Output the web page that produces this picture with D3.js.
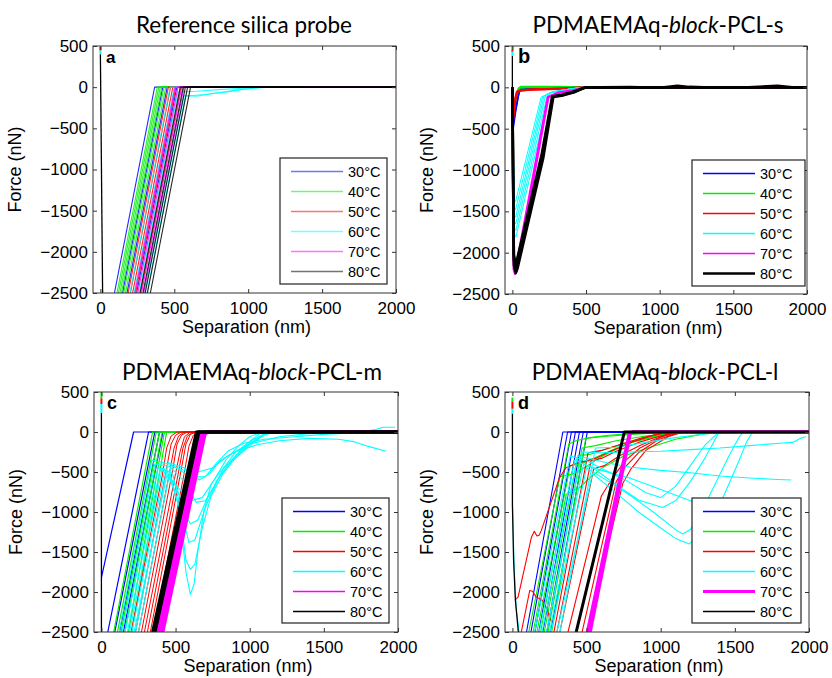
<!DOCTYPE html>
<html>
<head>
<meta charset="utf-8">
<script src="https://cdn.jsdelivr.net/npm/d3@7/dist/d3.min.js"></script>
<style>
body { margin: 0; background: #fff; }
text { font-family: "Liberation Sans", Arial, sans-serif; fill: #000; }
.title { font-family: Lato, "Open Sans", sans-serif; font-size: 22.5px; }
</style>
</head>
<body>
<svg id="chart" width="832" height="678"></svg>
<script>
// legend / series names and MATLAB colours
var temps = ['30°C', '40°C', '50°C', '60°C', '70°C', '80°C'];
var colors = ['#0000ff', '#00ee00', '#ff0000', '#00ffff', '#ff00ff', '#000000'];
var xTicks = [0, 500, 1000, 1500, 2000];
var yTicks = [500, 0, -500, -1000, -1500, -2000, -2500];
var xDomain = [-50, 2000];
var yDomain = [-2500, 500];

// each curve is a list of [separation nm, force nN]
// ---- a: reference silica probe
var contactA = [[0, 400], [15, -2500]];
var tipsA = [[2, 490, 445], [3, 445, 400]];
var a30 = [
    [[95, -2500], [367, 0], [2000, 0]],
    [[150, -2500], [422, 0], [2000, 0]],
    [[180, -2500], [452, 0], [2000, 0]],
    [[245, -2500], [517, 0], [2000, 0]]
];
var a40 = [
    [[112, -2500], [385, 0], [2000, 0]],
    [[122, -2500], [395, 0], [2000, 0]],
    [[132, -2500], [405, 0], [2000, 0]],
    [[142, -2500], [415, 0], [2000, 0]],
    [[158, -2500], [430, 0], [2000, 0]],
    [[170, -2500], [442, 0], [2000, 0]]
];
var a50 = [
    [[188, -2500], [460, 0], [2000, 0]],
    [[203, -2500], [475, 0], [2000, 0]],
    [[218, -2500], [490, 0], [2000, 0]],
    [[238, -2500], [510, 0], [2000, 0]],
    [[272, -2500], [545, 0], [2000, 0]]
];
var a60 = [
    [[200, -2500], [472, 0], [2000, 0]],
    [[228, -2500], [500, 0], [2000, 0]],
    [[262, -2500], [525, -60], [650, -50], [800, -30], [1000, -10], [1100, 0], [2000, 0]],
    [[300, -2500], [565, -100], [650, -110], [750, -80], [900, -40], [1050, -10], [1150, 0], [2000, 0]],
    [[315, -2500], [575, -110], [700, -90], [850, -60], [950, -30], [1100, 0], [2000, 0]]
];
var a70 = [
    [[233, -2500], [505, 0], [2000, 0]],
    [[253, -2500], [525, 0], [2000, 0]],
    [[278, -2500], [550, 0], [2000, 0]],
    [[293, -2500], [565, 0], [2000, 0]]
];
var a80 = [
    [[268, -2500], [540, 0], [2000, 0]],
    [[288, -2500], [560, 0], [2000, 0]],
    [[303, -2500], [575, 0], [2000, 0]],
    [[318, -2500], [590, 0], [2000, 0]],
    [[338, -2500], [610, 0], [1300, 8], [1400, 0], [2000, 0]]
];

// ---- b: PDMAEMAq-block-PCL-s
var contactB = [[0, 380], [0, 0]];
var tipsB = [[1, 500, 455], [2, 455, 430], [3, 430, 380]];
var b30 = [
    [[0, 0], [3, -510], [20, -300], [38, -118], [50, -25], [120, -8], [250, 0], [2000, 0]],
    [[0, 0], [3, -460], [22, -250], [42, -70], [60, -15], [200, 0], [2000, 0]]
];
var b40 = [
    [[0, 0], [3, -330], [25, -120], [42, -15], [60, 8], [200, 6], [330, 8], [420, 0], [2000, 0]],
    [[0, 0], [3, -280], [28, -90], [48, -5], [150, 4], [300, 2], [2000, 0]]
];
var b50 = [
    [[0, 0], [3, -420], [18, -180], [30, -60], [60, -35], [150, -25], [300, -18], [420, -10], [520, 0], [2000, 0]],
    [[0, 0], [3, -370], [20, -130], [35, -45], [100, -30], [250, -20], [400, -8], [500, 0], [2000, 0]]
];
var b60 = [
    [[0, 0], [12, -1350], [22, -1380], [195, -120], [250, -70], [380, -25], [470, 0], [2000, 0]],
    [[0, 0], [12, -1450], [22, -1480], [205, -115], [255, -65], [390, -20], [480, 0], [2000, 0]],
    [[0, 0], [13, -1540], [23, -1570], [215, -105], [262, -60], [400, -20], [480, 0], [2000, 0]],
    [[0, 0], [13, -1620], [23, -1650], [225, -100], [268, -58], [400, -18], [490, 0], [2000, 0]],
    [[0, 0], [14, -1700], [24, -1730], [237, -95], [272, -55], [410, -15], [490, 0], [2000, 0]],
    [[0, 0], [14, -1780], [24, -1810], [250, -85], [280, -50], [420, -12], [500, 0], [2000, 0]]
];
var b70 = [
    [[0, 0], [8, -2200], [18, -2260], [30, -2220], [245, -120], [320, -65], [420, -40], [500, 0], [2000, 0]],
    [[0, 0], [8, -2100], [16, -2170], [28, -2140], [240, -115], [315, -60], [410, -35], [490, 0], [2000, 0]]
];
var b80 = [
    [[0, 0], [10, -2150], [23, -2245], [35, -2190], [210, -850], [278, -118], [346, -97], [420, -60], [457, -30], [490, -5], [600, 0], [800, 3], [1000, -5], [1120, 20], [1200, 5], [1400, -5], [1600, 0], [1800, 20], [1900, 0], [2000, 0]],
    [[0, 0], [10, -2080], [22, -2180], [33, -2120], [205, -820], [274, -112], [340, -92], [420, -55], [460, -25], [495, 0], [2000, 0]],
    [[0, 0], [10, -2030], [21, -2120], [32, -2080], [200, -800], [270, -110], [335, -90], [420, -50], [500, 0], [2000, 0]]
];

// ---- c: PDMAEMAq-block-PCL-m
var contactC = [[0, 240], [0, -2500]];
var tipsC = [[1, 500, 420], [2, 420, 350], [3, 350, 240]];
var c30 = [
    [[0, -1820], [217, 0], [2000, 0]],
    [[43, -2500], [318, 0], [2000, 0]],
    [[90, -2500], [360, 0], [2000, 0]],
    [[122, -2500], [392, 0], [2000, 0]],
    [[148, -2500], [415, 0], [2000, 0]]
];
var c40 = [
    [[83, -2500], [345, 0], [2000, 0]],
    [[108, -2500], [370, 0], [2000, 0]],
    [[132, -2500], [392, 0], [2000, 0]],
    [[158, -2500], [410, 0], [2000, 0]],
    [[182, -2500], [425, 0], [2000, 0]],
    [[205, -2500], [440, 0], [2000, 0]]
];
var c50 = [
    [[200, -2500], [410, -550], [440, -200], [470, -50], [510, 0], [2000, 0]],
    [[230, -2500], [440, -450], [470, -150], [500, -40], [540, 0], [2000, 0]],
    [[250, -2500], [460, -500], [490, -200], [520, -50], [560, 0], [2000, 0]],
    [[270, -2500], [480, -480], [510, -150], [540, -40], [580, 0], [2000, 0]],
    [[290, -2500], [500, -520], [530, -250], [560, -60], [600, 0], [2000, 0]],
    [[310, -2500], [520, -500], [550, -200], [580, -50], [620, 0], [2000, 0]],
    [[330, -2500], [540, -450], [570, -150], [600, -30], [640, 0], [2000, 0]],
    [[350, -2500], [560, -500], [590, -180], [620, -40], [645, 0], [2000, 0]]
];
var c60 = [
    [[160, -2500], [380, -450], [440, -470], [520, -900], [570, -1750], [600, -2030], [625, -1900], [650, -1500], [690, -1000], [740, -650], [800, -500], [880, -350], [960, -200], [1050, -80], [1150, 0], [2000, 0]],
    [[175, -2500], [395, -470], [460, -500], [530, -1000], [570, -1600], [600, -1720], [630, -1650], [680, -1200], [740, -800], [820, -520], [900, -330], [1000, -150], [1100, -30], [1200, 0], [2000, 0]],
    [[190, -2500], [410, -450], [480, -520], [540, -1000], [590, -1380], [630, -1350], [700, -950], [780, -600], [860, -400], [950, -250], [1050, -100], [1120, 0], [2000, 0]],
    [[205, -2500], [425, -500], [500, -650], [560, -1000], [600, -1150], [650, -1100], [720, -800], [800, -550], [880, -350], [980, -150], [1080, 0], [2000, 0]],
    [[140, -2500], [360, -400], [460, -430], [560, -620], [640, -880], [700, -860], [760, -700], [820, -460], [900, -260], [1000, -120], [1100, -20], [1250, 0], [2000, 0]],
    [[220, -2500], [440, -550], [520, -700], [600, -860], [680, -820], [760, -600], [840, -350], [920, -180], [1000, -60], [1080, 0], [2000, 0]],
    [[230, -2500], [450, -380], [560, -450], [660, -600], [730, -520], [800, -360], [900, -250], [1050, -160], [1200, -110], [1400, -80], [1600, -90], [1700, -120], [1800, -180], [1920, -240]],
    [[120, -2500], [340, -350], [460, -400], [600, -560], [700, -560], [780, -380], [860, -230], [960, -140], [1100, -90], [1300, -60], [1500, -30], [1700, -10], [1850, 30], [1900, 60], [1980, 60]],
    [[250, -2500], [470, -420], [560, -480], [650, -500], [750, -450], [850, -300], [1000, -150], [1200, -60], [1400, -20], [1560, 0], [2000, 0]]
];
var c70 = [
    [[375, -2500], [665, -40], [700, 0], [2000, 0]],
    [[390, -2500], [680, -40], [710, 0], [2000, 0]],
    [[405, -2500], [690, -30], [720, 0], [2000, 0]],
    [[415, -2500], [700, -20], [730, 0], [2000, 0]]
];
var c80 = [
    [[345, -2500], [640, 0], [2000, 0]],
    [[355, -2500], [650, 0], [2000, 0]],
    [[362, -2500], [658, 0], [2000, 0]]
];

// ---- d: PDMAEMAq-block-PCL-l
var contactD = [[0, 230], [0, -900], [8, -1600], [20, -2100], [40, -2500]];
var tipsD = [[1, 430, 380], [2, 380, 290], [3, 290, 230]];
var d30 = [
    [[95, -2500], [340, 0], [2000, 0]],
    [[125, -2500], [372, 0], [2000, 0]],
    [[152, -2500], [398, 0], [2000, 0]],
    [[178, -2500], [425, 0], [2000, 0]],
    [[205, -2500], [452, 0], [2000, 0]],
    [[232, -2500], [478, 0], [2000, 0]],
    [[258, -2500], [505, 0], [2000, 0]]
];
var d40 = [
    [[110, -2500], [320, -560], [400, -530], [500, -430], [600, -310], [750, -170], [900, -70], [1050, -10], [1200, 0], [2000, 0]],
    [[140, -2500], [380, -150], [430, -110], [520, -70], [650, -40], [800, -20], [1000, 0], [2000, 0]],
    [[165, -2500], [390, -420], [460, -400], [560, -320], [680, -220], [820, -120], [1000, -40], [1150, 0], [2000, 0]],
    [[190, -2500], [363, -777], [450, -700], [530, -560], [610, -445], [750, -300], [924, -195], [1100, -90], [1300, -20], [1500, 0], [2000, 0]],
    [[215, -2500], [440, -300], [520, -280], [640, -210], [800, -120], [1000, -50], [1200, 0], [2000, 0]],
    [[240, -2500], [470, -200], [560, -170], [700, -110], [900, -50], [1100, -10], [1300, 0], [2000, 0]],
    [[265, -2500], [495, -80], [600, -60], [800, -30], [1000, -10], [1200, 0], [2000, 0]]
];
var d50 = [
    [[18, -2100], [38, -2065], [128, -1316], [148, -1240], [165, -1300], [180, -1290], [195, -1230], [318, -569], [360, -450], [420, -400], [498, -361], [560, -330], [650, -250], [800, -130], [950, -40], [1050, 0], [2000, 0]],
    [[60, -2500], [117, -1981], [135, -1990], [161, -2064], [200, -2100], [217, -2147], [240, -2250], [251, -2334], [265, -2360]],
    [[280, -2500], [510, -260], [600, -230], [720, -160], [880, -70], [1000, -20], [1080, 0], [2000, 0]],
    [[300, -2500], [530, -360], [600, -330], [700, -240], [850, -130], [1000, -50], [1100, 0], [2000, 0]],
    [[320, -2500], [548, -460], [620, -420], [720, -300], [860, -170], [1000, -60], [1120, 0], [2000, 0]],
    [[375, -2500], [600, -800], [680, -560], [760, -360], [860, -200], [1000, -70], [1100, 0], [2000, 0]],
    [[470, -2500], [700, -620], [760, -440], [850, -260], [980, -100], [1100, -20], [1150, 0], [2000, 0]],
    [[505, -2500], [745, -640], [800, -460], [900, -230], [1050, -60], [1150, 0], [2000, 0]]
];
var d60 = [
    [[0, -900], [12, -1700], [25, -2200], [45, -2500]],
    [[200, -2500], [440, -300], [540, -340], [650, -390], [800, -440], [1000, -480], [1200, -510], [1400, -550], [1600, -575], [1750, -590], [1880, -600]],
    [[230, -2500], [470, -250], [600, -260], [800, -250], [1000, -240], [1200, -220], [1400, -200], [1600, -170], [1800, -140], [1890, -130], [1940, -80], [1980, -60]],
    [[250, -2500], [480, -400], [600, -480], [800, -580], [1000, -720], [1200, -860], [1330, -980], [1400, -900], [1460, -650], [1530, -350], [1580, -120], [1620, 0], [2000, 0]],
    [[260, -2500], [500, -450], [650, -620], [800, -800], [950, -1000], [1100, -1220], [1148, -1275], [1200, -1220], [1280, -980], [1370, -640], [1460, -300], [1530, -60], [1560, 0], [2000, 0]],
    [[180, -2500], [420, -350], [550, -460], [700, -660], [850, -850], [1013, -943], [1100, -860], [1200, -620], [1300, -320], [1395, 0], [2000, 0]],
    [[300, -2500], [540, -520], [700, -760], [850, -1000], [1000, -1200], [1100, -1330], [1193, -1400], [1240, -1300], [1290, -1080], [1340, -850]],
    [[150, -2500], [390, -300], [500, -360], [650, -500], [780, -620], [900, -760], [1000, -820], [1100, -680], [1200, -420], [1300, -160], [1380, -20], [1450, 0], [2000, 0]],
    [[320, -2500], [560, -200], [700, -190], [900, -130], [1100, -70], [1300, -25], [1450, 0], [2000, 0]]
];
var d70 = [
    [[505, -2500], [785, -40], [805, 0], [2000, 0]],
    [[515, -2500], [790, -30], [810, 0], [2000, 0]],
    [[525, -2500], [795, -20], [815, 0], [2000, 0]]
];
var d80 = [
    [[430, -2500], [755, 0], [2000, 0]]
];

var svg = d3.select('#chart');

// panel layout (pixel boxes, text spots, line widths)
var panels = [
    {id: 'a', x0: 93, x1: 396, y0: 46, y1: 293, letterSize: 17,
     title: [['Reference silica probe', false]], titleX: 244, titleY: 33,
     curves: [a30, a40, a50, a60, a70, a80], contact: contactA, tips: tipsA,
     widths: [1.1, 1.1, 1.1, 1.1, 1.1, 1.1], opacity: 0.85,
     legend: {x: 280, y: 158, w: 107, h: 126}, legWidths: [1.5, 1.5, 1.5, 1.5, 1.5, 1.5], legOpacity: 0.55},
    {id: 'b', x0: 505, x1: 807, y0: 46, y1: 294, letterSize: 20,
     title: [['PDMAEMAq-', false], ['block', true], ['-PCL-s', false]], titleX: 658, titleY: 33,
     curves: [b30, b40, b50, b60, b70, b80], contact: contactB, tips: tipsB,
     widths: [2, 2, 2.2, 1, 2, 2.6], opacity: 1,
     legend: {x: 692, y: 160, w: 113, h: 126}, legWidths: [1.6, 1.6, 1.6, 1.6, 1.6, 2.4], legOpacity: 1},
    {id: 'c', x0: 94, x1: 398, y0: 392, y1: 632, letterSize: 18,
     title: [['PDMAEMAq-', false], ['block', true], ['-PCL-m', false]], titleX: 252, titleY: 380,
     curves: [c30, c40, c50, c60, c70, c80], contact: contactC, tips: tipsC,
     widths: [1.2, 1.2, 1, 1.1, 3, 3], opacity: 1,
     legend: {x: 282, y: 498, w: 107, h: 125}, legWidths: [1.5, 1.5, 1.5, 1.5, 1.5, 1.5], legOpacity: 1},
    {id: 'd', x0: 505, x1: 809, y0: 392, y1: 632, letterSize: 18,
     title: [['PDMAEMAq-', false], ['block', true], ['-PCL-l', false]], titleX: 655, titleY: 380,
     curves: [d30, d40, d50, d60, d70, d80], contact: contactD, tips: tipsD,
     widths: [1.1, 1.1, 1.1, 1.1, 3, 3], opacity: 1,
     legend: {x: 692, y: 498, w: 109, h: 125}, legWidths: [1.5, 1.5, 1.5, 1.5, 3, 1.5], legOpacity: 1}
];

panels.forEach(drawPanel);

function drawPanel(p) {
    var x = d3.scaleLinear().domain(xDomain).range([p.x0, p.x1]);
    var y = d3.scaleLinear().domain(yDomain).range([p.y1, p.y0]);
    var line = d3.line().x(function(d) { return x(d[0]); }).y(function(d) { return y(d[1]); });

    svg.append('clipPath').attr('id', 'clip-' + p.id)
        .append('rect').attr('x', p.x0).attr('y', p.y0)
        .attr('width', p.x1 - p.x0).attr('height', p.y1 - p.y0);

    var plotG = svg.append('g').attr('clip-path', 'url(#clip-' + p.id + ')')
        .attr('fill', 'none').attr('stroke-linejoin', 'round');

    // curves, plotted in temperature order like the original
    p.curves.forEach(function(set, i) {
        plotG.selectAll('.c' + i).data(set).enter().append('path')
            .attr('d', line)
            .attr('stroke', colors[i])
            .attr('stroke-width', p.widths[i])
            .attr('stroke-opacity', p.opacity);
    });
    // contact part at zero separation
    plotG.append('path').attr('d', line(p.contact))
        .attr('stroke', '#000').attr('stroke-width', 1.3);
    p.tips.forEach(function(t) {
        plotG.append('path').attr('d', line([[0, t[1]], [0, t[2]]]))
            .attr('stroke', colors[t[0]]).attr('stroke-width', 2);
    });

    // axes, MATLAB style ticks pointing inside
    var bottom = d3.axisBottom(x).tickValues(xTicks).tickSize(-4).tickPadding(9).tickFormat(d3.format('d'));
    var left = d3.axisLeft(y).tickValues(yTicks).tickSize(-4).tickPadding(5).tickFormat(d3.format('d'));
    var top = d3.axisTop(x).tickValues(xTicks).tickSize(-4).tickFormat('');
    var right = d3.axisRight(y).tickValues(yTicks).tickSize(-4).tickFormat('');

    var gb = svg.append('g').attr('transform', 'translate(0,' + p.y1 + ')').call(bottom);
    var gl = svg.append('g').attr('transform', 'translate(' + p.x0 + ',0)').call(left);
    var gt = svg.append('g').attr('transform', 'translate(0,' + p.y0 + ')').call(top);
    var gr = svg.append('g').attr('transform', 'translate(' + p.x1 + ',0)').call(right);
    [gb, gl, gt, gr].forEach(function(g) {
        g.select('.domain').remove();
        g.selectAll('line').attr('stroke', '#333');
        g.selectAll('text').attr('font-size', 17).attr('font-family', '"Liberation Sans", Arial, sans-serif').attr('fill', '#000');
    });

    svg.append('rect').attr('x', p.x0).attr('y', p.y0)
        .attr('width', p.x1 - p.x0).attr('height', p.y1 - p.y0)
        .attr('fill', 'none').attr('stroke', '#333').attr('stroke-width', 1);

    // panel letter
    svg.append('text').attr('x', p.x0 + 13).attr('y', p.y0 + 17)
        .attr('font-weight', 'bold').attr('font-size', p.letterSize).text(p.id);

    // axis titles
    svg.append('text').attr('x', (p.x0 + p.x1) / 2 + 2).attr('y', p.y1 + 40)
        .attr('text-anchor', 'middle').attr('font-size', 18).text('Separation (nm)');
    svg.append('text')
        .attr('transform', 'translate(' + (p.x0 - 72) + ',' + ((p.y0 + p.y1) / 2) + ') rotate(-90)')
        .attr('text-anchor', 'middle').attr('font-size', 18).text('Force (nN)');

    // panel title
    var t = svg.append('text').attr('class', 'title')
        .attr('x', p.titleX).attr('y', p.titleY).attr('text-anchor', 'middle');
    p.title.forEach(function(part) {
        t.append('tspan').attr('font-style', part[1] ? 'italic' : 'normal').text(part[0]);
    });

    // legend
    var lg = svg.append('g').attr('transform', 'translate(' + p.legend.x + ',' + p.legend.y + ')');
    lg.append('rect').attr('width', p.legend.w).attr('height', p.legend.h)
        .attr('fill', '#fff').attr('stroke', '#222').attr('stroke-width', 1.2);
    var rows = lg.selectAll('.row').data(temps).enter().append('g')
        .attr('transform', function(d, i) { return 'translate(0,' + (13.5 + i * 20) + ')'; });
    rows.append('line').attr('x1', 11).attr('x2', 63)
        .attr('stroke', function(d, i) { return colors[i]; })
        .attr('stroke-width', function(d, i) { return p.legWidths[i]; })
        .attr('stroke-opacity', p.legOpacity);
    rows.append('text').attr('x', 68).attr('y', 5).attr('font-size', 14.5).text(function(d) { return d; });
}
</script>
</body>
</html>
